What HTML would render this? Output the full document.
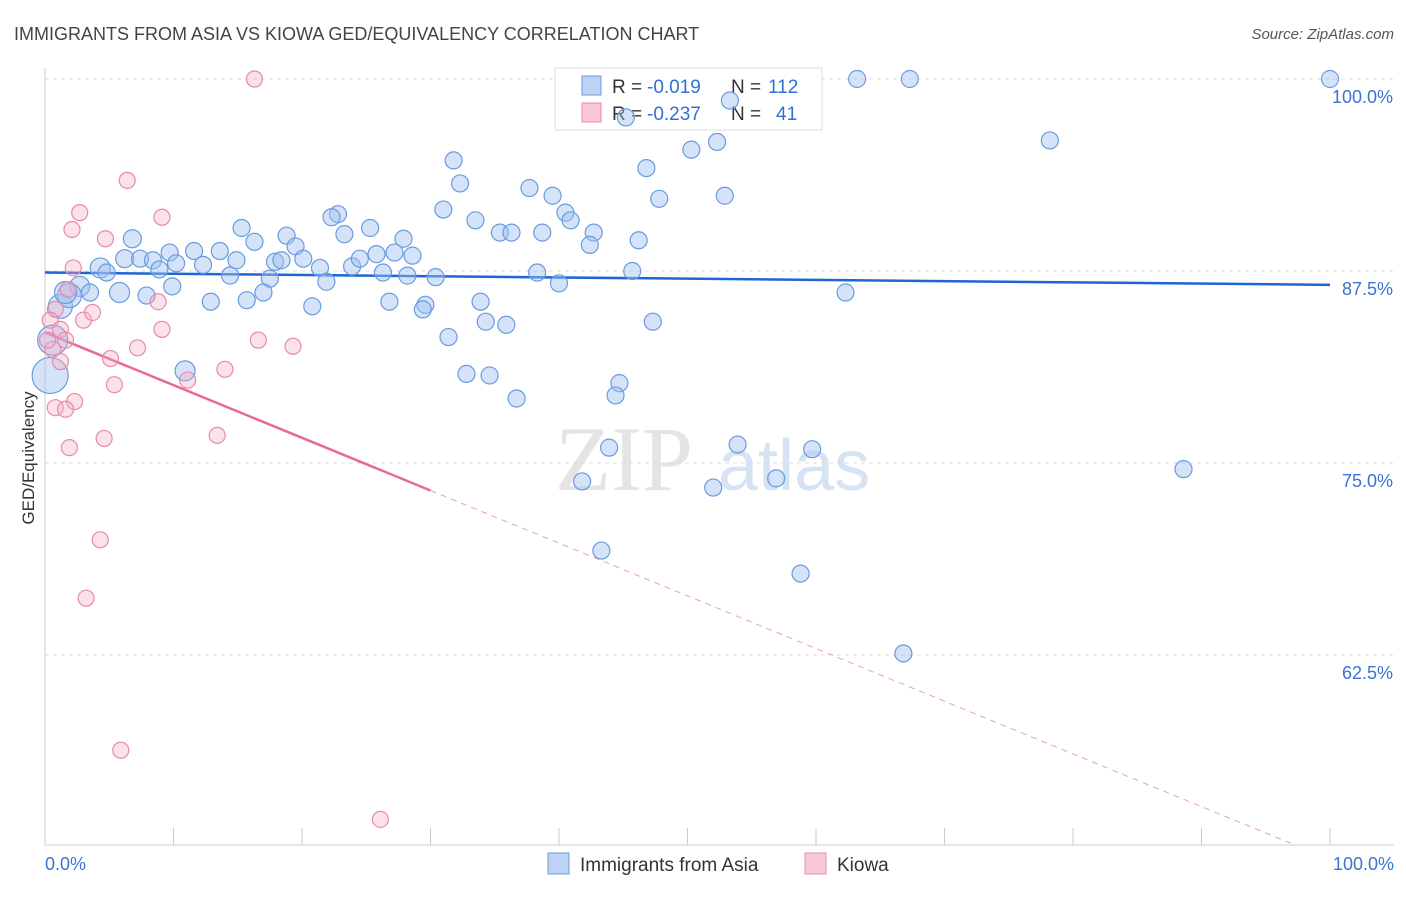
<!DOCTYPE html>
<html><head><meta charset="utf-8"><style>
body{margin:0;background:#fff;font-family:"Liberation Sans",sans-serif}
</style></head><body>
<svg id="chart" width="1406" height="892" xmlns="http://www.w3.org/2000/svg" font-family="Liberation Sans, sans-serif">
<text x="14" y="40" font-size="18" fill="#444">IMMIGRANTS FROM ASIA VS KIOWA GED/EQUIVALENCY CORRELATION CHART</text>
<text x="1394" y="39" font-size="15" fill="#555" text-anchor="end" font-style="italic">Source: ZipAtlas.com</text>
<text transform="translate(34,458) rotate(-90)" font-size="17" fill="#333" text-anchor="middle">GED/Equivalency</text>
<g><text x="555" y="490" font-size="92" fill="#e4e4e4" font-family="Liberation Serif, serif">ZIP</text><text x="718" y="490" font-size="72" fill="#d6e3f5">atlas</text></g>
<g id="grid"></g><g id="axes"></g>
<g>
<rect x="555" y="68" width="267" height="62" fill="#fff" stroke="#ddd"/>
<rect x="582" y="76" width="19" height="19" fill="#bcd3f5" stroke="#6a9be0"/>
<rect x="582" y="103" width="19" height="19" fill="#f9c8d8" stroke="#e88aaa"/>
<text x="612" y="93" font-size="19" fill="#333">R =</text>
<text x="647" y="93" font-size="19" fill="#2f6fd6">-0.019</text>
<text x="731" y="93" font-size="19" fill="#333">N =</text>
<text x="768" y="93" font-size="19" fill="#2f6fd6">112</text>
<text x="612" y="120" font-size="19" fill="#333">R =</text>
<text x="647" y="120" font-size="19" fill="#2f6fd6">-0.237</text>
<text x="731" y="120" font-size="19" fill="#333">N =</text>
<text x="776" y="120" font-size="19" fill="#2f6fd6">41</text>
</g>
<g id="trend"></g><g id="blue"></g><g id="pink"></g>
<g>
<rect x="548" y="853" width="21" height="21" fill="#bcd3f5" stroke="#6a9be0"/>
<text x="580" y="871" font-size="19" fill="#333">Immigrants from Asia</text>
<rect x="805" y="853" width="21" height="21" fill="#f9c8d8" stroke="#e88aaa"/>
<text x="837" y="871" font-size="19" fill="#333">Kiowa</text>
</g>
</svg>
<script>
const blueX=[100,63.2,67.3,78.2,52.3,50.3,46.8,31.8,32.3,37.7,39.5,47.8,52.9,31.0,40.5,22.8,22.3,33.5,40.9,35.4,36.3,38.7,42.7,46.2,42.4,15.3,25.3,23.3,18.8,6.8,16.3,19.5,27.9,11.6,13.6,9.7,6.2,7.4,8.4,10.2,12.3,14.9,17.9,18.4,20.1,21.4,23.9,24.5,25.8,27.2,28.6,4.3,4.8,8.9,14.4,9.9,17.5,21.9,26.3,28.2,30.4,38.3,45.7,40.0,2.7,3.5,5.8,7.9,12.9,15.7,17.0,20.8,26.8,29.6,29.4,33.9,34.3,35.9,47.3,62.3,31.4,1.2,0.6,0.4,10.9,32.8,34.6,44.7,44.4,36.7,88.6,53.9,43.9,59.7,41.8,52.0,56.9,43.3,58.8,66.8,45.2,53.3,1.9,1.6];
const blueY=[100,100,100,96.0,95.9,95.4,94.2,94.7,93.2,92.9,92.4,92.2,92.4,91.5,91.3,91.2,91.0,90.8,90.8,90.0,90.0,90.0,90.0,89.5,89.2,90.3,90.3,89.9,89.8,89.6,89.4,89.1,89.6,88.8,88.8,88.7,88.3,88.3,88.2,88.0,87.9,88.2,88.1,88.2,88.3,87.7,87.8,88.3,88.6,88.7,88.5,87.7,87.4,87.6,87.2,86.5,87.0,86.8,87.4,87.2,87.1,87.4,87.5,86.7,86.5,86.1,86.1,85.9,85.5,85.6,86.1,85.2,85.5,85.3,85.0,85.5,84.2,84.0,84.2,86.1,83.2,85.2,83.0,80.7,81.0,80.8,80.7,80.2,79.4,79.2,74.6,76.2,76.0,75.9,73.8,73.4,74.0,69.3,67.8,62.6,97.5,98.6,85.9,86.1];
const bigIdx=[[83,18],[82,15],[81,12],[102,12],[64,10],[51,10],[66,10],[29,9],[36,9],[84,10],[103,11]];
const pinkX=[16.3,6.4,2.7,9.1,2.1,4.7,2.2,1.8,8.8,0.8,3.0,3.7,9.1,0.4,1.2,1.6,0.6,16.6,19.3,7.2,5.1,14.0,1.2,11.1,5.4,2.3,0.8,1.6,13.4,4.6,1.9,4.3,3.2,5.9,26.1,0.2];
const pinkY=[100,93.4,91.3,91.0,90.2,89.6,87.7,86.3,85.5,85.0,84.3,84.8,83.7,84.3,83.7,83.0,82.4,83.0,82.6,82.5,81.8,81.1,81.6,80.4,80.1,79.0,78.6,78.5,76.8,76.6,76.0,70.0,66.2,56.3,51.8,83.0];
const yTicks=[100,87.5,75,62.5];
const yTickLabels=["100.0%","87.5%","75.0%","62.5%"];
const blueTrend=[87.4,86.6];
const pinkTrend=[83.5,-0.343];
const NS="http://www.w3.org/2000/svg";
const X=v=>45+v*12.85, Y=v=>79+(100-v)*15.36;
function mk(p,t,a){const e=document.createElementNS(NS,t);for(const k in a)e.setAttribute(k,a[k]);document.getElementById(p).appendChild(e);return e;}
yTicks.forEach((t,i)=>{
 const l=mk('grid','line',{x1:45,x2:1394,y1:Y(t),y2:Y(t),stroke:'#ddd','stroke-dasharray':'4,4'});
 
 
 const tx=mk('grid','text',{x:1393,y:Y(t)+24,'font-size':18,fill:'#3b73d4','text-anchor':'end'});
 tx.textContent=yTickLabels[i];
 
 
});
const ax=mk('axes','line',{x1:45,x2:45,y1:68,y2:845,stroke:'#ccc'});


const bx=mk('axes','line',{x1:45,x2:1394,y1:845,y2:845,stroke:'#ccc'});


for(let i=1;i<=10;i++){const t=mk('axes','line',{x1:X(i*10),x2:X(i*10),y1:828,y2:845,stroke:'#ccc'});}
[[0,"0.0%","start",45],[100,"100.0%","end",1394]].forEach(d=>{const t=mk('axes','text',{x:d[3],y:870,'font-size':18,fill:'#3b73d4','text-anchor':d[2]});t.textContent=d[1];});
let l=mk('trend','line',{x1:X(0),x2:X(100),y1:Y(blueTrend[0]),y2:Y(blueTrend[1]),stroke:'#1f66d4','stroke-width':2.5});


l=mk('trend','line',{x1:X(0),x2:X(30),y1:Y(pinkTrend[0]),y2:Y(pinkTrend[0]+pinkTrend[1]*30),stroke:'#e8689a','stroke-width':2.5});


l=mk('trend','line',{x1:X(30),x2:X(97),y1:Y(pinkTrend[0]+pinkTrend[1]*30),y2:Y(pinkTrend[0]+pinkTrend[1]*97),stroke:'#e8a0bb','stroke-width':1,'stroke-dasharray':'6,5'});


const rad={};bigIdx.forEach(b=>rad[b[0]]=b[1]);
blueX.forEach((x,i)=>{const c=mk('blue','circle',{cx:X(x),cy:Y(blueY[i]),r:rad[i]||8.5,fill:'rgba(160,192,240,0.45)',stroke:'#6a9be0','stroke-width':1.2});
 
 });
pinkX.forEach((x,i)=>{const c=mk('pink','circle',{cx:X(x),cy:Y(pinkY[i]),r:8,fill:'rgba(244,170,195,0.35)',stroke:'#e88aaa','stroke-width':1.2});
 
 });
</script>
</body></html>
